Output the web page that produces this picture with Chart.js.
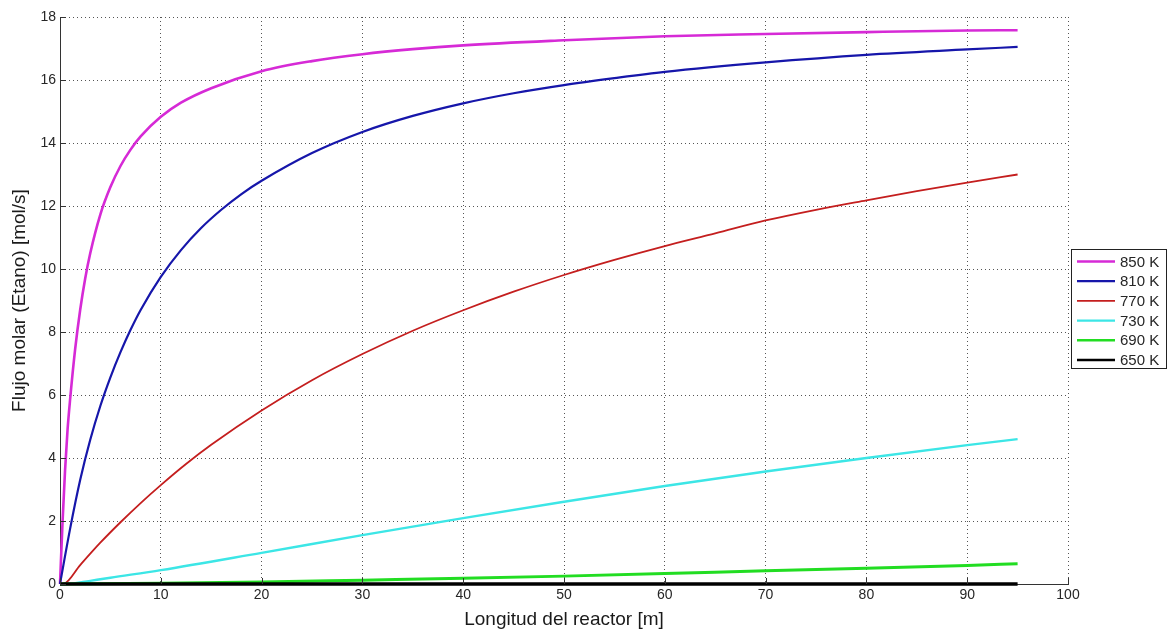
<!DOCTYPE html>
<html><head><meta charset="utf-8">
<script src="https://cdn.jsdelivr.net/npm/chart.js@4.4.1/dist/chart.umd.min.js"></script>
<style>html,body{margin:0;padding:0;background:#fff;} #wrap{width:1172px;height:635px;position:relative;}</style>
</head><body><div id="wrap"><canvas id="c"></canvas></div>
<script>
const seriesLabels = ['850 K','810 K','770 K','730 K','690 K','650 K'];
const seriesColors = ['#d62ad6','#1616aa','#c41e1e','#3ce6e6','#22dd22','#000000'];
const seriesWidths = [2.6, 2.2, 1.8, 2.4, 3, 3.6];

const x850 = [0,0.25,0.5,0.75,1,1.5,2,2.5,3,4,5,6,7,8,10,12,15,20,25,30,35,40,50,60,70,80,90,95];
const y850 = [0,1.95,3.6,4.9,5.85,7.45,8.7,9.7,10.5,11.73,12.6,13.27,13.79,14.21,14.83,15.28,15.74,16.28,16.6,16.82,16.98,17.1,17.26,17.39,17.46,17.52,17.57,17.58];

const x810 = [0,1,2,3,4,5,6,7,8,10,12,14,16,18,20,25,30,35,40,45,50,55,60,70,80,90,95];
const y810 = [0,1.75,3.3,4.58,5.65,6.56,7.36,8.07,8.7,9.75,10.6,11.3,11.88,12.38,12.8,13.68,14.35,14.86,15.26,15.58,15.84,16.06,16.26,16.56,16.8,16.97,17.05];

const x770 = [0,0.4,2,4,6,8,10,12.5,15,20,25,30,35,40,45,50,55,60,65,70,75,80,85,90,95];
const y770 = [0,0.01,0.6,1.31,1.96,2.57,3.14,3.81,4.42,5.51,6.47,7.3,8.04,8.69,9.28,9.81,10.29,10.73,11.13,11.54,11.88,12.18,12.47,12.74,13.0];

const x730 = [0,1,2,3,5,10,20,30,40,50,60,70,80,90,95];
const y730 = [0,0.01,0.05,0.1,0.2,0.44,0.99,1.55,2.09,2.61,3.11,3.57,4.0,4.41,4.6];

const x690 = [0,10,20,30,40,50,60,70,80,90,95];
const y690 = [0,0.02,0.06,0.12,0.18,0.25,0.33,0.42,0.5,0.59,0.64];

const x650 = [0,20,40,60,80,95];
const y650 = [0,0,0,0,0,0];

const xTicks = [0,10,20,30,40,50,60,70,80,90,100];
const yTicks = [0,2,4,6,8,10,12,14,16,18];

const xs = [x850,x810,x770,x730,x690,x650];
const ys = [y850,y810,y770,y730,y690,y650];

const FONT = '"Liberation Sans", Arial, sans-serif';

const datasets = seriesLabels.map((lab, i) => ({
  label: lab,
  data: xs[i].map((x, j) => ({x: x, y: ys[i][j]})),
  borderColor: seriesColors[i],
  backgroundColor: seriesColors[i],
  borderWidth: seriesWidths[i],
  pointRadius: 0,
  fill: false,
  cubicInterpolationMode: 'monotone',
  clip: false,
  order: seriesLabels.length - 1 - i
}));

const tickPlugin = {
  id: 'innerTicks',
  afterDatasetsDraw(chart) {
    const ctx = chart.ctx, xs_ = chart.scales.x, ys_ = chart.scales.y;
    const a = chart.chartArea;
    ctx.save();
    ctx.strokeStyle = '#333';
    ctx.lineWidth = 1;
    ctx.beginPath();
    xTicks.forEach(v => {
      const p = Math.round(xs_.getPixelForValue(v)) + 0.5;
      ctx.moveTo(p, a.bottom); ctx.lineTo(p, a.bottom - 6);
    });
    yTicks.forEach(v => {
      const p = Math.round(ys_.getPixelForValue(v)) + 0.5;
      ctx.moveTo(a.left, p); ctx.lineTo(a.left + 6, p);
    });
    ctx.stroke();
    ctx.restore();
  }
};

const legendPlugin = {
  id: 'boxLegend',
  afterDraw(chart) {
    const ctx = chart.ctx;
    const L = 1071, T = 249, W = 95, H = 119, step = 19.7;
    ctx.save();
    ctx.fillStyle = '#fff';
    ctx.fillRect(L, T, W, H);
    ctx.strokeStyle = '#222';
    ctx.lineWidth = 1;
    ctx.strokeRect(L + 0.5, T + 0.5, W, H);
    ctx.font = '15px ' + FONT;
    ctx.textBaseline = 'middle';
    chart.data.datasets.forEach((ds, i) => {
      const cy = T + 12.5 + i * step;
      ctx.strokeStyle = ds.borderColor;
      ctx.lineWidth = Math.min(ds.borderWidth, 2.4);
      ctx.beginPath();
      ctx.moveTo(L + 6, cy); ctx.lineTo(L + 44, cy);
      ctx.stroke();
      ctx.fillStyle = '#262626';
      ctx.fillText(ds.label, L + 49, cy + 1);
    });
    ctx.restore();
  }
};

new Chart(document.getElementById('c'), {
  type: 'line',
  data: { datasets },
  options: {
    responsive: true,
    maintainAspectRatio: false,
    animation: false,
    layout: { padding: { left: 0, right: 104, top: 17, bottom: 0 } },
    plugins: { legend: { display: false }, tooltip: { enabled: false } },
    scales: {
      x: {
        type: 'linear', min: 0, max: 100,
        afterBuildTicks: s => { s.ticks = xTicks.map(v => ({value: v})); },
        afterFit: s => { s.height = 51; },
        ticks: { font: { family: FONT, size: 14 }, color: '#262626', padding: 3, maxRotation: 0 },
        grid: { color: '#555', lineWidth: 1, drawTicks: false },
        border: { display: true, color: '#333', width: 1, dash: [1, 3] },
        title: { display: true, text: 'Longitud del reactor [m]', font: { family: FONT, size: 19 }, color: '#1a1a1a', padding: { top: 0, bottom: 4 } }
      },
      y: {
        type: 'linear', min: 0, max: 18,
        afterBuildTicks: s => { s.ticks = yTicks.map(v => ({value: v})); },
        afterFit: s => { s.width = 60; },
        ticks: { font: { family: FONT, size: 14 }, color: '#262626', padding: 4 },
        grid: { color: '#555', lineWidth: 1, drawTicks: false },
        border: { display: true, color: '#333', width: 1, dash: [1, 3] },
        title: { display: true, text: 'Flujo molar (Etano) [mol/s]', font: { family: FONT, size: 19 }, color: '#1a1a1a', padding: { top: 8, bottom: 0 } }
      }
    }
  },
  plugins: [tickPlugin, legendPlugin]
});
</script></body></html>
